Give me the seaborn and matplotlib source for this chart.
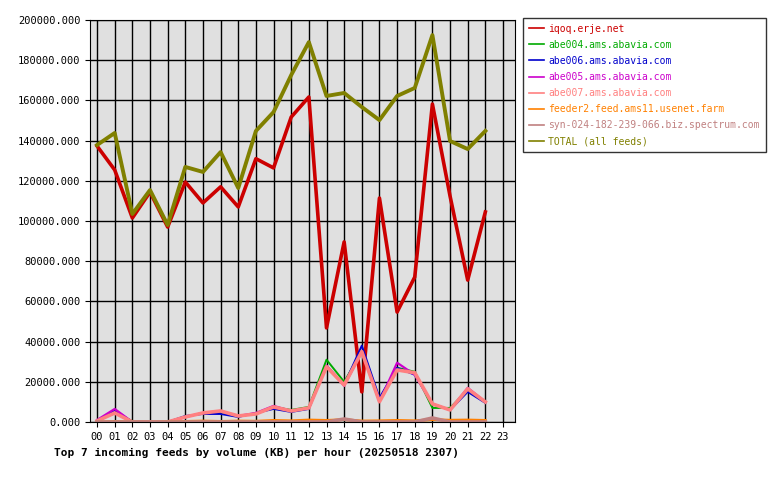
import matplotlib

matplotlib.use("Agg")

import matplotlib.pyplot as plt
import numpy as np
import pandas as pd
import seaborn as sns
from matplotlib.ticker import FuncFormatter

hours = list(range(23))
hour_labels = [f"{h:02d}" for h in range(24)]

iqoq = [137300, 125400, 101500, 114400, 97000, 119400, 109000, 117000, 107000, 131000, 126400, 151700,
        161700, 46800, 89600, 15000, 111400, 54700, 72100, 158200, 112400, 70600, 104500]
abe004 = [500, 4500, 500, 0, 0, 2500, 4500, 5000, 3000, 4000, 7500, 6000,
          7500, 31000, 20000, 35000, 11000, 27000, 25000, 7000, 7000, 16000, 10000]
abe006 = [500, 6000, 0, 0, 0, 3000, 4000, 4000, 2500, 4500, 6500, 5000,
          6500, 28000, 18500, 38000, 12000, 27000, 23500, 9000, 6000, 15000, 9500]
abe005 = [1000, 6500, 0, 0, 0, 2500, 4500, 5500, 3000, 4500, 8000, 5500,
          7000, 28000, 18000, 35000, 10000, 29500, 23500, 9000, 6000, 17000, 10000]
abe007 = [500, 4500, 0, 0, 0, 2500, 4500, 5500, 3000, 4000, 7500, 5500,
          7000, 27500, 18400, 35000, 10100, 25900, 24500, 9000, 6000, 16500, 10000]
feeder2 = [0, 300, 0, 0, 200, 300, 500, 300, 500, 400, 800, 600,
           1000, 800, 1200, 500, 600, 800, 600, 1200, 900, 1000, 800]
spectrum = [0, 0, 0, 0, 0, 0, 0, 0, 0, 0, 0, 0,
            0, 0, 1500, 0, 0, 0, 0, 2000, 0, 0, 0]
total = [137800, 143800, 103500, 115400, 98000, 126900, 124400, 134300, 116400, 144800, 154200, 172600,
         189000, 162200, 163700, 156700, 150200, 162200, 166200, 192500, 139800, 135800, 144800]

series = [
    ("iqoq.erje.net", iqoq, "#cc0000", 2.6),
    ("abe004.ams.abavia.com", abe004, "#00aa00", 1.4),
    ("abe006.ams.abavia.com", abe006, "#0000cc", 1.4),
    ("abe005.ams.abavia.com", abe005, "#cc00cc", 1.6),
    ("abe007.ams.abavia.com", abe007, "#ff8080", 2.6),
    ("feeder2.feed.ams11.usenet.farm", feeder2, "#ff8000", 2.0),
    ("syn-024-182-239-066.biz.spectrum.com", spectrum, "#c08080", 2.6),
    ("TOTAL (all feeds)", total, "#808000", 2.8),
]

plt.rcParams["font.family"] = "DejaVu Sans Mono"
fig = plt.figure(figsize=(7.8, 4.8), dpi=100)
ax = fig.add_axes([90 / 780, 58 / 480, 425 / 780, 402 / 480])
ax.set_facecolor("#e0e0e0")

for name, vals, color, lw in series:
    df = pd.DataFrame({"hour": hours, "kb": vals})
    sns.lineplot(data=df, x="hour", y="kb", ax=ax, color=color, linewidth=lw, label=name)

ax.set_xlim(-0.4, 23.68)
ax.set_ylim(0, 200000)
ax.set_xticks(range(24))
ax.set_xticklabels(hour_labels, fontsize=7.5)
ax.set_yticks(np.arange(0, 200001, 20000))
ax.yaxis.set_major_formatter(FuncFormatter(lambda v, p: f"{v:.3f}"))
ax.tick_params(axis="y", labelsize=7.5)
ax.grid(True, color="black", linewidth=1)
ax.set_axisbelow(True)
for s in ax.spines.values():
    s.set_color("black")
ax.set_xlabel("Top 7 incoming feeds by volume (KB) per hour (20250518 2307)",
              fontsize=8, fontweight="bold", loc="left", labelpad=4)
ax.xaxis.set_label_coords(-0.085, -0.065)
ax.set_ylabel("")

leg = ax.legend(loc="upper left", bbox_to_anchor=(433 / 425, 1.005), fontsize=7,
                frameon=True, fancybox=False, edgecolor="black", handlelength=1.6,
                handletextpad=0.4, labelspacing=0.62, borderpad=0.6, borderaxespad=0)
for line, text in zip(leg.get_lines(), leg.get_texts()):
    line.set_linewidth(1.2)
    text.set_color(line.get_color())

fig.savefig("out.png", dpi=100)
